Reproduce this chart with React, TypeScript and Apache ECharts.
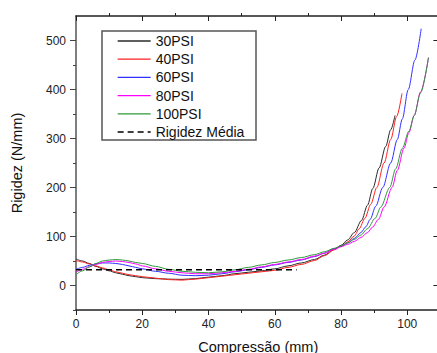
import React, { useEffect, useRef } from "react";
import * as echarts from "echarts";

const seriesNames = ["30PSI", "40PSI", "60PSI", "80PSI", "100PSI", "Rigidez Média"];
const seriesColors = ["#2a2a2a", "#ff2020", "#3030ff", "#ff00ff", "#2f9a3a", "#000000"];

const psi30 = [
  [0, 54], [2, 50], [4, 45], [6, 39], [8, 34], [10, 30], [12, 26], [14, 23], [16, 20], [18, 18],
  [20, 16], [24, 14], [28, 13], [32, 12.5], [36, 14], [40, 17], [44, 20], [48, 24], [52, 27],
  [56, 30], [60, 34], [64, 40], [68, 46], [72, 53], [75, 62], [78, 74], [80, 82], [82, 93],
  [84, 108], [86.2, 133], [88, 164], [89.6, 198], [91.5, 240], [93.5, 284], [95, 318], [96.3, 347],
];
const psi40 = [
  [0, 51], [2, 48], [4, 44], [6, 40], [8, 36], [10, 32], [12, 28], [14, 25], [16, 22], [18, 20],
  [20, 18], [24, 15], [28, 12], [32, 11], [36, 13], [40, 16], [44, 19], [48, 22], [52, 25],
  [56, 28], [60, 31], [64, 37], [68, 43], [72, 51], [75, 61], [78, 73], [80, 80], [82, 89],
  [84, 101], [85.5, 116], [87.2, 137], [89, 166], [90.8, 200], [93, 250], [95, 298], [96.8, 345],
  [98.4, 392],
];
const psi60 = [
  [0, 33], [2, 37], [4, 41], [6, 44], [8, 46], [10, 46], [12, 45], [14, 43], [16, 40], [18, 37],
  [20, 34], [24, 29], [28, 25], [32, 21], [36, 20], [40, 21], [44, 24], [48, 28], [52, 32],
  [56, 37], [60, 42], [64, 47], [68, 52], [72, 59], [75, 66], [78, 75], [80, 80], [82, 87],
  [84, 96], [86, 108], [87.5, 120], [88.8, 135], [90.5, 162], [92.6, 200], [95, 250], [97, 298],
  [98.5, 340], [100.3, 400], [102.3, 460], [104.2, 524],
];
const psi80 = [
  [0, 27], [2, 33], [4, 38], [6, 43], [8, 47], [10, 49], [12, 50], [14, 49], [16, 47], [18, 44],
  [20, 40], [24, 34], [28, 29], [32, 26], [36, 24], [40, 24], [44, 26], [48, 29], [52, 33],
  [56, 38], [60, 43], [64, 48], [68, 53], [72, 60], [75, 66], [78, 74], [80, 79], [82, 84],
  [84, 90], [86, 98], [88, 108], [89.5, 119], [91.3, 135], [93, 160], [95.4, 200], [97, 235],
  [99, 280], [100.5, 312], [102.1, 347], [104, 395], [106.4, 465],
];
const psi100 = [
  [0, 22], [2, 30], [4, 38], [6, 45], [8, 50], [10, 52], [12, 53], [14, 52], [16, 50], [18, 47],
  [20, 45], [24, 39], [28, 33], [32, 29], [36, 27], [40, 26], [44, 28], [48, 32], [52, 37],
  [56, 42], [60, 47], [64, 52], [68, 57], [72, 63], [75, 69], [78, 76], [80, 81], [82, 87],
  [84, 94], [86, 103], [88, 116], [90.3, 137], [92, 160], [94.7, 200], [96.5, 238], [98.5, 280],
  [100.5, 315], [102.1, 347], [104, 393], [106.4, 465],
];
const rigidezMedia = [[0, 32], [66.6, 32]];

const xMin = 0;
const xMax = 110;
const yMin = -50;
const yMax = 550;
const xMinorTicks = [0, 10, 20, 30, 40, 50, 60, 70, 80, 90, 100];
const xMajorTicks = [0, 20, 40, 60, 80, 100];
const xTopMinorTicks = [10, 30, 50, 70, 90];
const xLabels = [0, 20, 40, 60, 80, 100];
const yMinorTicks = [-50, 0, 50, 100, 150, 200, 250, 300, 350, 400, 450, 500];
const yMajorTicks = [0, 100, 200, 300, 400, 500];
const yLabels = [0, 100, 200, 300, 400, 500];

const FONT = "'Liberation Sans', Arial, Helvetica, sans-serif";
const AXIS_COLOR = "#222";

export default function App() {
  const ref = useRef<HTMLDivElement>(null);

  useEffect(() => {
    if (!ref.current) return;
    const chart = echarts.init(ref.current, null, { renderer: "svg" });
    const lineSeries = [psi30, psi40, psi60, psi80, psi100].map((d, i) => ({
      name: seriesNames[i],
      type: "line",
      data: d,
      smooth: 0.3,
      smoothMonotone: "x",
      symbol: "none",
      showSymbol: false,
      lineStyle: { color: seriesColors[i], width: 1 },
      itemStyle: { color: seriesColors[i] },
      z: 2 + i,
    }));
    const baseX = { type: "value", min: xMin, max: xMax, splitLine: { show: false } };
    const baseY = { type: "value", min: yMin, max: yMax, splitLine: { show: false } };
    const option: any = {
      animation: false,
      grid: { left: 76, right: -3.4, top: 16, bottom: 43, containLabel: false, outerBoundsMode: "none" },
      legend: {
        orient: "vertical",
        left: 117,
        top: 34,
        padding: 0,
        itemWidth: 33,
        itemHeight: 14,
        itemGap: 4.2,
        data: seriesNames,
        itemStyle: { opacity: 0, borderWidth: 0 },
        lineStyle: { width: 1.3 },
        textStyle: { fontSize: 14, fontFamily: FONT, color: "#111", lineHeight: 14 },
      },
      graphic: [
        {
          type: "rect",
          shape: { x: 102, y: 31, width: 154, height: 109 },
          style: { fill: "none", stroke: "#555", lineWidth: 1.5 },
          z: 1,
        },
      ],
      xAxis: [
        {
          ...baseX,
          position: "bottom",
          name: "Compressão (mm)",
          nameLocation: "middle",
          nameGap: 29,
          nameTextStyle: { fontSize: 14.5, fontFamily: FONT, color: "#111" },
          axisLine: { show: true, onZero: false, lineStyle: { color: AXIS_COLOR, width: 1.5 } },
          axisTick: { show: true, inside: false, length: 3, customValues: xMinorTicks, lineStyle: { color: AXIS_COLOR, width: 1 } },
          axisLabel: { show: true, customValues: xLabels, margin: 8, fontSize: 12, fontFamily: FONT, color: "#222" },
        },
        {
          ...baseX,
          position: "bottom",
          axisLine: { show: false, onZero: false },
          axisTick: { show: true, inside: false, length: 5, customValues: xMajorTicks, lineStyle: { color: AXIS_COLOR, width: 1 } },
          axisLabel: { show: false },
        },
        {
          ...baseX,
          position: "top",
          axisLine: { show: true, onZero: false, lineStyle: { color: AXIS_COLOR, width: 1.5 } },
          axisTick: { show: true, inside: false, length: 3, customValues: xTopMinorTicks, lineStyle: { color: AXIS_COLOR, width: 1 } },
          axisLabel: { show: false },
        },
        {
          ...baseX,
          position: "top",
          axisLine: { show: false, onZero: false },
          axisTick: { show: true, inside: true, length: 5, customValues: xMajorTicks, lineStyle: { color: AXIS_COLOR, width: 1 } },
          axisLabel: { show: false },
        },
      ],
      yAxis: [
        {
          ...baseY,
          position: "left",
          name: "Rigidez (N/mm)",
          nameLocation: "middle",
          nameGap: 52,
          nameRotate: 90,
          nameTextStyle: { fontSize: 14.5, fontFamily: FONT, color: "#111" },
          axisLine: { show: true, onZero: false, lineStyle: { color: "#555", width: 1.5 } },
          axisTick: { show: true, inside: false, length: 3, customValues: yMinorTicks, lineStyle: { color: "#444", width: 1 } },
          axisLabel: { show: true, customValues: yLabels, margin: 10, fontSize: 12, fontFamily: FONT, color: "#222" },
        },
        {
          ...baseY,
          position: "left",
          axisLine: { show: false, onZero: false },
          axisTick: { show: true, inside: false, length: 6, customValues: yMajorTicks, lineStyle: { color: "#444", width: 1 } },
          axisLabel: { show: false },
        },
        {
          ...baseY,
          position: "right",
          axisLine: { show: true, onZero: false, lineStyle: { color: AXIS_COLOR, width: 1.5 } },
          axisTick: { show: true, inside: true, length: 7, customValues: yMajorTicks, lineStyle: { color: AXIS_COLOR, width: 1 } },
          axisLabel: { show: false },
        },
      ],
      series: [
        ...lineSeries,
        {
          name: seriesNames[5],
          type: "line",
          data: rigidezMedia,
          symbol: "none",
          showSymbol: false,
          lineStyle: { color: "#000", width: 1.5, type: [6, 4] },
          itemStyle: { color: "#000" },
          z: 10,
        },
      ],
    };
    chart.setOption(option);
    return () => chart.dispose();
  }, []);

  return (
    <div
      ref={ref}
      style={{ position: "fixed", left: 0, top: 0, width: 437, height: 353, background: "#fff" }}
    />
  );
}
